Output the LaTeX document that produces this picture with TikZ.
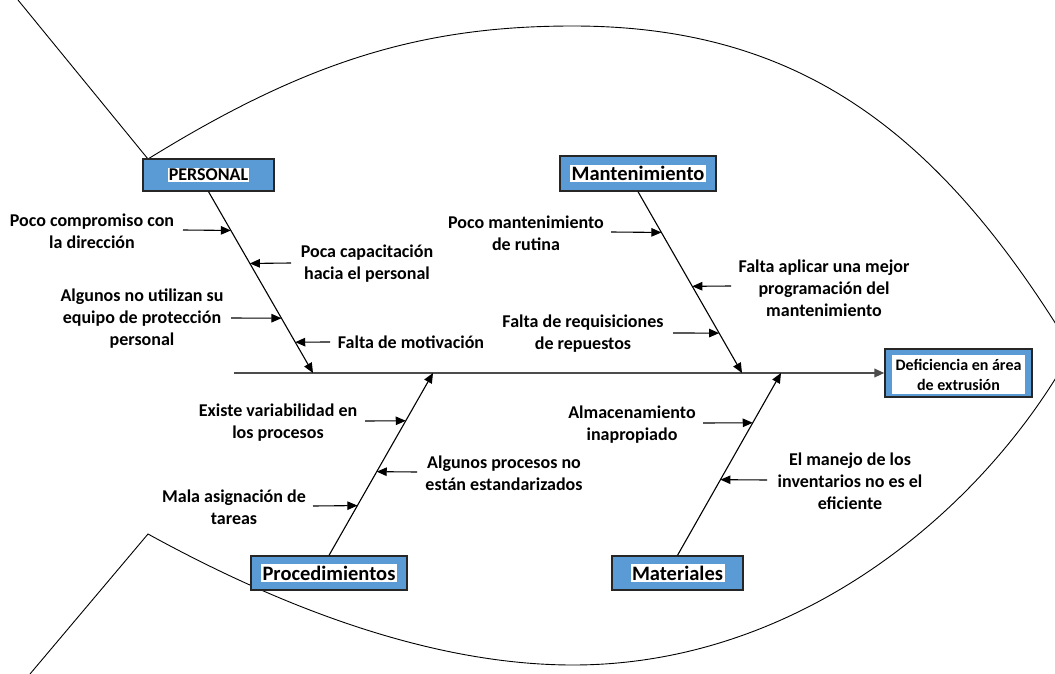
\documentclass[tikz,border=0pt]{standalone}
\usepackage{fontspec}
\setmainfont{Carlito}
\usetikzlibrary{arrows.meta,calc}
\definecolor{boxblue}{HTML}{5B9BD5}
\begin{document}
\begin{tikzpicture}[x=1pt,y=-1pt,
  cat/.style={draw=black!85,line width=1.3pt,fill=boxblue,inner sep=0},
  catlabel/.style={fill=white,inner sep=1.5pt,font=\bfseries\fontsize{20.5}{24}\selectfont},
  cause/.style={align=center,inner sep=0,font=\bfseries\fontsize{18}{22}\selectfont},
  tip/.style={-{Triangle[length=10pt,width=8.5pt]}},
  bone/.style={draw,line width=1.1pt,tip},
  arr/.style={draw,line width=1.1pt,tip}]
\useasboundingbox (0,0) rectangle (1055,674);
\begin{scope}
\clip (0,0) rectangle (1055,674);
\path[draw,line width=0.9pt] (18,0) -- (148,159) .. controls (308,60) and (423,26) .. (573,26) .. controls (803,26) and (943,135) .. (1075,355);
\path[draw,line width=0.9pt] (30,674) -- (148,534) .. controls (268,600) and (423,665) .. (573,665) .. controls (803,665) and (989,505) .. (1075,345);
\end{scope}
% categories
\node[cat,minimum width=131pt,minimum height=32pt] (per) at (208.5,175) {};
\node[catlabel,inner sep=1pt,font=\bfseries\fontsize{18}{20}\selectfont] (perT) at (per) {PERSONAL};
\node[cat,minimum width=156pt,minimum height=35pt] (man) at (638,173.5) {};
\node[catlabel] (manT) at (man) {Mantenimiento};
\node[cat,minimum width=156pt,minimum height=34pt] (pro) at (329,573) {};
\node[catlabel] (proT) at (pro) {Procedimientos};
\node[cat,minimum width=131pt,minimum height=34pt] (mat) at (677.5,573) {};
\node[catlabel] (matT) at (mat) {Materiales};
% effect and spine
\node[cat,minimum width=147pt,minimum height=48pt] (efe) at (958.5,373) {};
\node[catlabel,align=center,inner sep=0,minimum width=133pt,minimum height=39pt,font=\bfseries\fontsize{16}{20}\selectfont] (efeT) at (958.5,374.5) {Deficiencia en área\\de extrusión};
\coordinate (s0) at (234,373);
\coordinate (pA) at (313,373);
\coordinate (mA) at (742,373);
\coordinate (prA) at (433,373);
\coordinate (maA) at (781,373);
\path[draw,line width=2pt,draw=black!70,tip] (s0) -- (efe.west);
\path[bone] (per.south) -- (pA);
\path[bone] (man.south) -- (mA);
\path[bone] (pro.north) -- (prA);
\path[bone] (mat.north) -- (maA);
% PERSONAL
\node[cause] (c1) at (92,231) {Poco compromiso con\\la dirección};
\node[cause] (c2) at (367,264) {Poca capacitación\\hacia el personal};
\node[cause] (c3) at (142,319) {Algunos no utilizan su\\equipo de protección\\personal};
\node[cause] (c4) at (411,342) {Falta de motivación};
\coordinate (c1a) at (183,230);
\coordinate (c2a) at (291,263);
\coordinate (c3a) at (231,318);
\coordinate (c4a) at (330,342);
\path[arr] (c1a) -- ($(per.south)!.214!(pA)$);
\path[arr] (c2a) -- ($(per.south)!.396!(pA)$);
\path[arr] (c3a) -- ($(per.south)!.698!(pA)$);
\path[arr] (c4a) -- ($(per.south)!.830!(pA)$);
% Mantenimiento
\node[cause] (c5) at (526,233) {Poco mantenimiento\\de rutina};
\node[cause] (c6) at (824,288) {Falta aplicar una mejor\\programación del\\mantenimiento};
\node[cause] (c7) at (583,334) {Falta de requisiciones\\de repuestos};
\coordinate (c5a) at (611,232);
\coordinate (c6a) at (731,286);
\coordinate (c7a) at (673,333);
\path[arr] (c5a) -- ($(man.south)!.225!(mA)$);
\path[arr] (c6a) -- ($(man.south)!.522!(mA)$);
\path[arr] (c7a) -- ($(man.south)!.780!(mA)$);
% Procedimientos
\node[cause] (c8) at (278,423) {Existe variabilidad en\\los procesos};
\node[cause] (c9) at (504,473) {Algunos procesos no\\están estandarizados};
\node[cause] (c10) at (234,507) {Mala asignación de\\tareas};
\coordinate (c8a) at (365,421);
\coordinate (c9a) at (417,472);
\coordinate (c10a) at (313,506);
\path[arr] (c8a) -- ($(pro.north)!.738!(prA)$);
\path[arr] (c9a) -- ($(pro.north)!.459!(prA)$);
\path[arr] (c10a) -- ($(pro.north)!.273!(prA)$);
% Materiales
\node[cause] (c11) at (632,425) {Almacenamiento\\inapropiado};
\node[cause] (c12) at (850,481) {El manejo de los\\inventarios no es el\\eficiente};
\coordinate (c11a) at (703,423);
\coordinate (c12a) at (767,480);
\path[arr] (c11a) -- ($(mat.north)!.727!(maA)$);
\path[arr] (c12a) -- ($(mat.north)!.415!(maA)$);
\end{tikzpicture}
\end{document}
